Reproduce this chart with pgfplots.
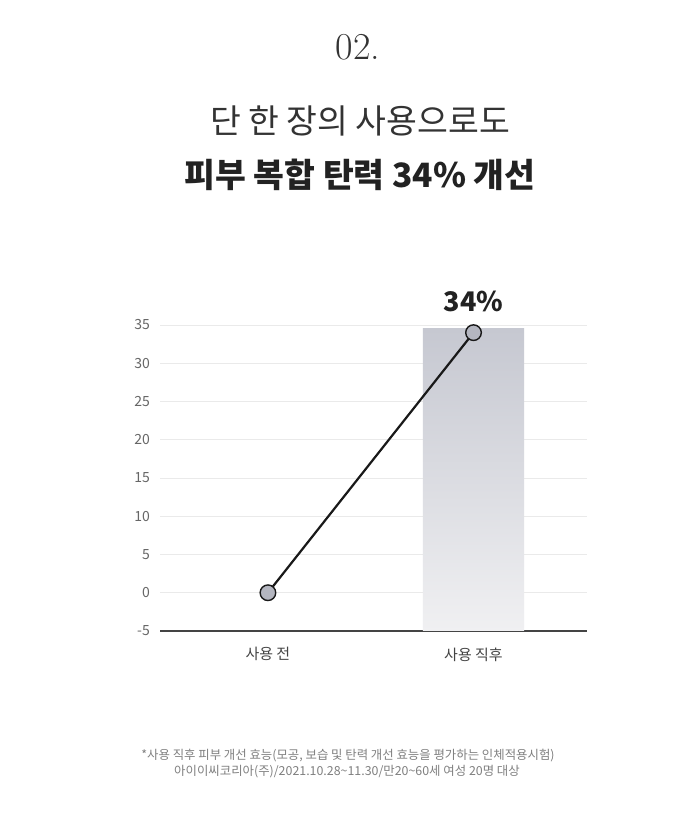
\documentclass[border=0pt]{standalone}
\usepackage{fontspec}
\setmainfont{Noto Sans CJK KR}
\usepackage{pgfplots}
\pgfplotsset{compat=1.18}

\definecolor{titlegray}{HTML}{333333}
\definecolor{darktext}{HTML}{222222}
\definecolor{ticktext}{HTML}{666666}
\definecolor{labeltext}{HTML}{444444}
\definecolor{notetext}{HTML}{808080}
\definecolor{gridgray}{HTML}{EAEAEA}
\definecolor{axisgray}{HTML}{444444}
\definecolor{bartop}{HTML}{C6C8D1}
\definecolor{barbottom}{HTML}{F0F0F2}
\definecolor{markfill}{HTML}{B4B6C0}

\begin{document}
\begin{tikzpicture}[x=1pt,y=1pt]
\fill[white] (0,0) rectangle (689,830);
\useasboundingbox (0,0) rectangle (689,830);

% headings
\node[text=titlegray] at (358,783) {\fontfamily{lmr}\selectfont\fontsize{38}{44}\selectfont 02.};
\node[text=titlegray] at (360,709) {\fontsize{33.5}{40}\selectfont 단 한 장의 사용으로도};
\node[text=darktext] at (360,655) {\fontsize{33.5}{40}\selectfont\bfseries 피부 복합 탄력 34\% 개선};

% footnote
\node[text=notetext] at (348,74) {\fontsize{12.4}{14}\selectfont *사용 직후 피부 개선 효능(모공, 보습 및 탄력 개선 효능을 평가하는 인체적용시험)};
\node[text=notetext] at (347,58) {\fontsize{12.4}{14}\selectfont 아이이씨코리아(주)/2021.10.28\textasciitilde 11.30/만20\textasciitilde 60세 여성 20명 대상};

\begin{axis}[
  at={(160pt,199pt)}, anchor=south west,
  scale only axis, width=427pt, height=306pt,
  xmin=-0.525, xmax=1.552, ymin=-5, ymax=35,
  ytick={-5,0,5,10,15,20,25,30,35},
  xtick={0,1}, xticklabels={사용 전, 사용 직후},
  axis x line*=bottom, axis y line*=left,
  x axis line style={draw=axisgray, line width=1.3pt, -},
  y axis line style={draw=none},
  major tick length=0pt,
  ymajorgrids, grid style={draw=gridgray, line width=0.8pt},
  /pgf/number format/assume math mode=true,
  yticklabel style={font=\fontsize{14}{16}\selectfont, text=ticktext, inner sep=0pt, xshift=-10pt},
  xticklabel style={font=\fontsize{15}{18}\selectfont, text=labeltext, yshift=-13pt},
  clip=false,
]
% bar behind the line
\addplot[draw=none, top color=bartop, bottom color=barbottom] coordinates {
  (0.754,-5) (0.754,34.5) (1.246,34.5) (1.246,-5)
} -- cycle;

% line with markers
\addplot[color=black!90, line width=2.2pt, mark=*, mark size=7.8pt,
  mark options={fill=markfill, draw=black!90, line width=1.4pt}] coordinates {
  (0,0)
  (1,34)
};

% value label
\addplot[draw=none, mark=none, nodes near coords={34\%},
  nodes near coords style={font=\fontsize{27}{30}\selectfont\bfseries, text=darktext,
    anchor=south, inner sep=0pt, yshift=21pt}] coordinates {
  (1,34)
};
\end{axis}
\end{tikzpicture}
\end{document}
